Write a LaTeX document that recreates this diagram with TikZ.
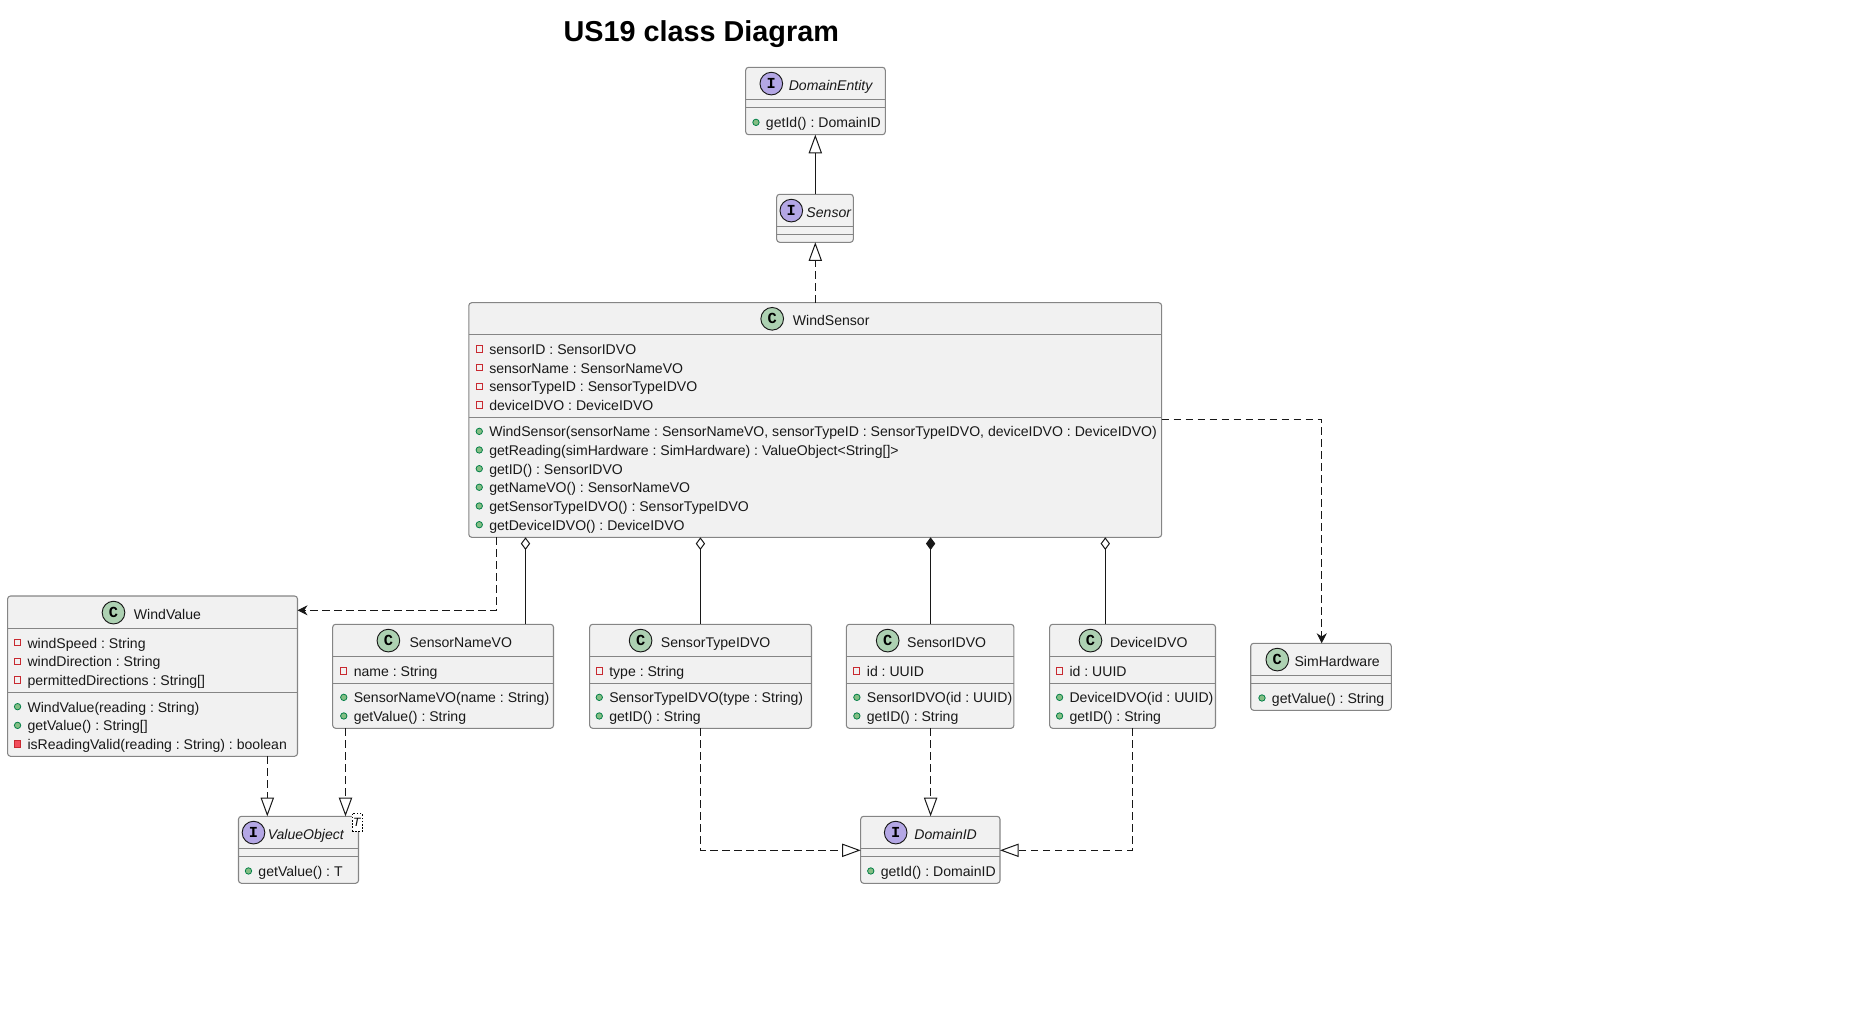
\documentclass[tikz,border=0pt]{standalone}
\usepackage{fontspec}
\setmainfont{Liberation Sans}
\setmonofont{Liberation Mono}
\usetikzlibrary{arrows.meta}
\usetikzlibrary{fit}
\definecolor{boxfill}{HTML}{F1F1F1}
\definecolor{boxline}{HTML}{858585}
\definecolor{linecol}{HTML}{181818}
\definecolor{spotgreen}{HTML}{ADD1B2}
\definecolor{spotpurple}{HTML}{B4A7E5}
\definecolor{pubfill}{HTML}{84BE84}
\definecolor{publine}{HTML}{038048}
\definecolor{privfill}{HTML}{F24D5C}
\definecolor{privline}{HTML}{C82930}
\frenchspacing
\newcommand{\umlbox}[5]{\node[classbox, fit={(#2,#3) (#4,#5)}] (#1) {};}
\newcommand{\compline}[2]{\draw[compline] (#1.west |- 0,#2) -- (#1.east |- 0,#2);}
\newcommand{\pubop}[4]{%
    \node[pubdot] (#1-b) at ([xshift=-7.3pt, yshift=4pt]#2,#3) {};
    \node[member] (#1) at (#2,#3) {#4};}
\newcommand{\privattr}[4]{%
    \node[privsq] (#1-b) at ([xshift=-7.3pt, yshift=4pt]#2,#3) {};
    \node[member] (#1) at (#2,#3) {#4};}
\newcommand{\privop}[4]{%
    \node[privsq, fill=privfill] (#1-b) at ([xshift=-7.3pt, yshift=4pt]#2,#3) {};
    \node[member] (#1) at (#2,#3) {#4};}
\begin{document}
\begin{tikzpicture}[x=0.75pt, y=-0.75pt]
    \tikzset{classbox/.style={draw=boxline, fill=boxfill, line width=0.8pt, rounded corners=2.2pt, inner sep=0pt, outer sep=0pt}}
    \tikzset{compline/.style={boxline, line width=0.8pt}}
    \tikzset{member/.style={anchor=base west, inner sep=0pt, text=black!90, font=\fontsize{10.55}{12}\selectfont}}
    \tikzset{head/.style={member}}
    \tikzset{headi/.style={member, font=\fontsize{10.55}{12}\selectfont\itshape}}
    \tikzset{spot/.style={circle, draw=linecol, line width=0.7pt, minimum size=17pt, inner sep=0pt, font=\fontsize{11.5}{12}\selectfont\ttfamily\bfseries}}
    \tikzset{spotc/.style={spot, fill=spotgreen}}
    \tikzset{spoti/.style={spot, fill=spotpurple}}
    \tikzset{pubdot/.style={circle, draw=publine, fill=pubfill, line width=0.6pt, minimum size=4.8pt, inner sep=0pt}}
    \tikzset{privsq/.style={rectangle, draw=privline, line width=0.7pt, minimum size=4.6pt, inner sep=0pt}}
    \tikzset{ext/.style={linecol, line width=0.75pt, -{Triangle[open, length=14pt, width=10pt]}}}
    \tikzset{impl/.style={ext, dash pattern=on 5.5pt off 3.5pt}}
    \tikzset{dep/.style={linecol, line width=0.75pt, dash pattern=on 5.5pt off 3.5pt, -{Stealth[length=7.5pt, width=7.5pt, inset=2.4pt]}}}
    \tikzset{aggr/.style={linecol, line width=0.75pt, {Diamond[open, length=9.5pt, width=7pt]}-}}
    \tikzset{comp/.style={linecol, line width=0.75pt, {Diamond[length=9.5pt, width=7pt]}-}}
    \useasboundingbox (0,0) rectangle (1852,1034);
    \node[anchor=base west, inner sep=0pt, font=\fontsize{21.6}{24}\selectfont\bfseries] (title) at (563.3,41.7) {US19 class Diagram};

    \umlbox{DomainEntity}{745.7}{67.3}{885.3}{134.7}
    \compline{DomainEntity}{99.3}
    \compline{DomainEntity}{107.3}
    \node[spoti] (de-s) at (771.3,83.6) {I};
    \node[headi] (de-t) at (788.5,90.5) {DomainEntity};
    \pubop{de-m}{765.7}{127.7}{getId() : DomainID}

    \umlbox{Sensor}{776.7}{194.3}{853.3}{242.3}
    \compline{Sensor}{226.3}
    \compline{Sensor}{234.3}
    \node[spoti] (se-s) at (791.3,210.6) {I};
    \node[headi] (se-t) at (806.2,217.5) {Sensor};

    \umlbox{WindSensor}{468.8}{302.7}{1161.6}{537.3}
    \compline{WindSensor}{334.3}
    \compline{WindSensor}{417.3}
    \node[spotc] (ws-s) at (772.2,318.8) {C};
    \node[head] (ws-t) at (792.6,325.3) {WindSensor};
    \foreach \n/\y/\t in {a/354.3/{sensorID : SensorIDVO}, b/373/{sensorName : SensorNameVO}, c/391.7/{sensorTypeID : SensorTypeIDVO}, d/410.3/{deviceIDVO : DeviceIDVO}} {
        \privattr{ws-\n}{489}{\y}{\t}
    }
    \foreach \n/\y/\t in {e/436.7/{WindSensor(sensorName : SensorNameVO, sensorTypeID : SensorTypeIDVO, deviceIDVO : DeviceIDVO)}, f/455.3/{getReading(simHardware : SimHardware) : ValueObject<String[]>}, g/474/{getID() : SensorIDVO}, h/492.6/{getNameVO() : SensorNameVO}, i/511.3/{getSensorTypeIDVO() : SensorTypeIDVO}, j/530/{getDeviceIDVO() : DeviceIDVO}} {
        \pubop{ws-\n}{489}{\y}{\t}
    }

    \umlbox{WindValue}{7.6}{596}{297.5}{756.3}
    \compline{WindValue}{628.3}
    \compline{WindValue}{692.3}
    \node[spotc] (wv-s) at (113.5,612.6) {C};
    \node[head] (wv-t) at (133.7,619.3) {WindValue};
    \foreach \n/\y/\t in {a/648/{windSpeed : String}, b/666.7/{windDirection : String}, c/685.3/{permittedDirections : String[]}} {
        \privattr{wv-\n}{27.3}{\y}{\t}
    }
    \pubop{wv-d}{27.3}{712}{WindValue(reading : String)}
    \pubop{wv-e}{27.3}{730.7}{getValue() : String[]}
    \privop{wv-f}{27.3}{749.3}{isReadingValid(reading : String) : boolean}

    \umlbox{SensorNameVO}{332.7}{624.3}{553.5}{728.3}
    \compline{SensorNameVO}{656.3}
    \compline{SensorNameVO}{683.3}
    \node[spotc] (sn-s) at (388.4,640.6) {C};
    \node[head] (sn-t) at (409.3,647.3) {SensorNameVO};
    \privattr{sn-a}{353.5}{676.3}{name : String}
    \pubop{sn-b}{353.5}{702.7}{SensorNameVO(name : String)}
    \pubop{sn-c}{353.5}{721.3}{getValue() : String}

    \umlbox{SensorTypeIDVO}{589.7}{624.3}{811.5}{728.3}
    \compline{SensorTypeIDVO}{656.3}
    \compline{SensorTypeIDVO}{683.3}
    \node[spotc] (st-s) at (640.6,640.6) {C};
    \node[head] (st-t) at (660.7,647.3) {SensorTypeIDVO};
    \privattr{st-a}{609}{676.3}{type : String}
    \pubop{st-b}{609}{702.7}{SensorTypeIDVO(type : String)}
    \pubop{st-c}{609}{721.3}{getID() : String}

    \umlbox{SensorIDVO}{846.4}{624.3}{1013.9}{728.3}
    \compline{SensorIDVO}{656.3}
    \compline{SensorIDVO}{683.3}
    \node[spotc] (si-s) at (887.7,640.6) {C};
    \node[head] (si-t) at (906.9,647.3) {SensorIDVO};
    \privattr{si-a}{866.6}{676.3}{id : UUID}
    \pubop{si-b}{866.6}{702.7}{SensorIDVO(id : UUID)}
    \pubop{si-c}{866.6}{721.3}{getID() : String}

    \umlbox{DeviceIDVO}{1049.7}{624.3}{1215.5}{728.3}
    \compline{DeviceIDVO}{656.3}
    \compline{DeviceIDVO}{683.3}
    \node[spotc] (di-s) at (1090.5,640.6) {C};
    \node[head] (di-t) at (1109.8,647.3) {DeviceIDVO};
    \privattr{di-a}{1069.3}{676.3}{id : UUID}
    \pubop{di-b}{1069.3}{702.7}{DeviceIDVO(id : UUID)}
    \pubop{di-c}{1069.3}{721.3}{getID() : String}

    \umlbox{SimHardware}{1250.7}{643.3}{1391.3}{710.3}
    \compline{SimHardware}{675.3}
    \compline{SimHardware}{683.3}
    \node[spotc] (sh-s) at (1277.3,659.6) {C};
    \node[head] (sh-t) at (1294.3,666.3) {SimHardware};
    \pubop{sh-a}{1271.7}{703.3}{getValue() : String}

    \umlbox{ValueObject}{238.5}{816.3}{358.5}{883.3}
    \compline{ValueObject}{848.3}
    \compline{ValueObject}{856.3}
    \node[spoti] (vo-s) at (253.5,832.6) {I};
    \node[headi] (vo-t) at (267.5,839.5) {ValueObject};
    \pubop{vo-a}{258.2}{876.3}{getValue() : T}
    \node[draw=black, fill=white, line width=0.4pt, dash pattern=on 1.2pt off 1.2pt, minimum width=7.4pt, minimum height=13.8pt, inner sep=0pt, font=\fontsize{9}{10}\selectfont\itshape] (vo-g) at (356.9,822.5) {T};

    \umlbox{DomainID}{860.7}{816.3}{1000}{883.3}
    \compline{DomainID}{848.3}
    \compline{DomainID}{856.3}
    \node[spoti] (do-s) at (895.7,832.6) {I};
    \node[headi] (do-t) at (914.1,839.5) {DomainID};
    \pubop{do-a}{880.5}{876.3}{getId() : DomainID}

    \coordinate (xtop) at (815.3,0);
    \coordinate (xwv) at (496.7,0);
    \coordinate (xsn) at (525.5,0);
    \coordinate (xst) at (700.4,0);
    \coordinate (xsi) at (930.6,0);
    \coordinate (xdi) at (1105.3,0);
    \coordinate (xdd) at (1132.2,0);
    \coordinate (xsh) at (1321.7,0);
    \coordinate (xva) at (267.3,0);
    \coordinate (xvb) at (345.5,0);
    \coordinate (ywv) at (0,610.3);
    \coordinate (ysh) at (0,419.3);
    \coordinate (ydo) at (0,850.3);

    \draw[ext] (Sensor.north -| xtop) -- (DomainEntity.south -| xtop);
    \draw[impl] (WindSensor.north -| xtop) -- (Sensor.south -| xtop);
    \draw[dep] (WindSensor.south -| xwv) |- (WindValue.east |- ywv);
    \draw[dep] (WindSensor.east |- ysh) -| (SimHardware.north -| xsh);
    \draw[aggr] (WindSensor.south -| xsn) -- (SensorNameVO.north -| xsn);
    \draw[aggr] (WindSensor.south -| xst) -- (SensorTypeIDVO.north -| xst);
    \draw[comp] (WindSensor.south -| xsi) -- (SensorIDVO.north -| xsi);
    \draw[aggr] (WindSensor.south -| xdi) -- (DeviceIDVO.north -| xdi);
    \draw[impl] (WindValue.south -| xva) -- (ValueObject.north -| xva);
    \draw[impl] (SensorNameVO.south -| xvb) -- (ValueObject.north -| xvb);
    \draw[impl] (SensorTypeIDVO.south -| xst) |- (DomainID.west |- ydo);
    \draw[impl] (SensorIDVO.south -| xsi) -- (DomainID.north -| xsi);
    \draw[impl] (DeviceIDVO.south -| xdd) |- (DomainID.east |- ydo);
\end{tikzpicture}
\end{document}
